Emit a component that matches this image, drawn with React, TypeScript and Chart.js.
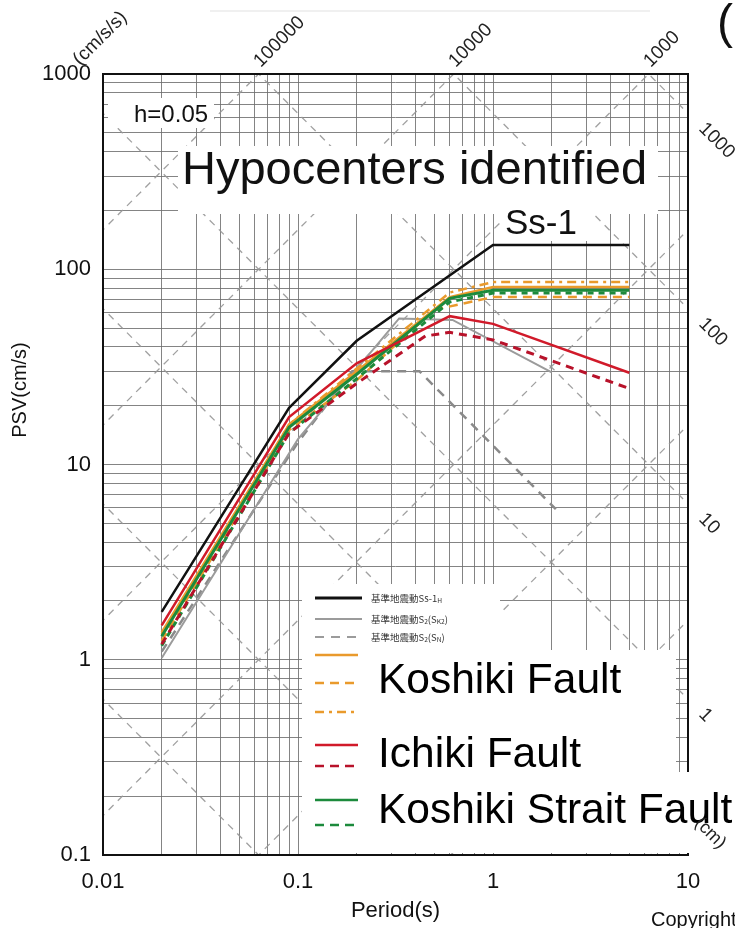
import React, { useEffect, useRef } from "react";
import { Chart, registerables } from "chart.js";

Chart.register(...registerables);

const W = 735;
const H = 928;

// ---- data (period in s, PSV in cm/s) ----
const ss1Periods = [0.02, 0.09, 0.2, 1, 5];
const ss1PSV = [1.76, 19.5, 43, 133, 133];

const sk2Periods = [0.02, 0.1, 0.33, 0.62, 2];
const sk2PSV = [1.02, 13.5, 56, 55, 29.6];

const snPeriods = [0.02, 0.1, 0.19, 0.42, 2.1];
const snPSV = [1.1, 13, 30, 30, 5.9];

const koshikiSolidPeriods = [0.02, 0.09, 0.2, 0.6, 1, 5];
const koshikiSolidPSV = [1.38, 16, 30, 72, 81, 81];
const koshikiDashPeriods = [0.02, 0.09, 0.2, 0.5, 1, 5];
const koshikiDashPSV = [1.25, 15, 27, 62, 72, 72];
const koshikiDotDashPeriods = [0.02, 0.09, 0.2, 0.6, 1, 5];
const koshikiDotDashPSV = [1.35, 16, 31, 76, 86, 86];

const ichikiSolidPeriods = [0.02, 0.09, 0.2, 0.6, 1, 5];
const ichikiSolidPSV = [1.5, 17.5, 33, 57.5, 52.5, 29.5];
const ichikiDashPeriods = [0.02, 0.09, 0.2, 0.45, 0.6, 1, 5];
const ichikiDashPSV = [1.2, 14.5, 26, 45.5, 47.5, 43.5, 24.5];

const straitSolidPeriods = [0.02, 0.09, 0.2, 0.6, 1, 5];
const straitSolidPSV = [1.32, 15.5, 29, 71, 78, 78];
const straitDashPeriods = [0.02, 0.09, 0.2, 0.6, 1, 5];
const straitDashPSV = [1.18, 14.5, 27.5, 68, 75.5, 75.5];

// ---- axes ----
const xTickValues = [0.01, 0.1, 1, 10];
const xTickLabels = ["0.01", "0.1", "1", "10"];
const yTickValues = [0.1, 1, 10, 100, 1000];
const yTickLabels = ["0.1", "1", "10", "100", "1000"];
const xGridValues = [0.01, 0.02, 0.03, 0.04, 0.05, 0.06, 0.07, 0.08, 0.09, 0.1, 0.2, 0.3, 0.4, 0.5, 0.6, 0.7, 0.8, 0.9, 1, 2, 3, 4, 5, 6, 7, 8, 9, 10];
const yGridValues = [0.1, 0.2, 0.3, 0.4, 0.5, 0.6, 0.7, 0.8, 0.9, 1, 2, 3, 4, 5, 6, 7, 8, 9, 10, 20, 30, 40, 50, 60, 70, 80, 90, 100, 200, 300, 400, 500, 600, 700, 800, 900, 1000];

// tripartite diagonal grid (acceleration cm/s/s, displacement cm)
const accelGrid = [0.1, 1, 10, 100, 1000, 10000, 100000, 1000000];
const dispGrid = [0.0001, 0.001, 0.01, 0.1, 1, 10, 100, 1000, 10000];
const accelLabelValues = [100000, 10000, 1000];
const accelLabels = ["100000", "10000", "1000"];
const dispLabelValues = [1000, 100, 10, 1];
const dispLabels = ["1000", "100", "10", "1"];

const legendJa = [
  [["基準地震動Ss-1", false], ["H", true]],
  [["基準地震動S", false], ["2", true], ["(S", false], ["K2", true], [")", false]],
  [["基準地震動S", false], ["2", true], ["(S", false], ["N", true], [")", false]],
];
const faultNames = ["Koshiki Fault", "Ichiki Fault", "Koshiki Strait Fault"];

const FONT = "'Liberation Sans', Arial, Helvetica, sans-serif";
const JFONT = "'Noto Sans CJK JP', 'Noto Sans', sans-serif";

const BLACK = "#111111";
const GRAY = "#9b9b9b";
const GRAYD = "#8a8a8a";
const ORANGE = "#e99a2c";
const RED = "#d11a2a";
const REDD = "#b8122a";
const GREEN = "#1c8a3c";

const pts = (t: number[], v: number[]) => t.map((x, i) => ({ x, y: v[i] }));
const same = (a: number, b: number) => Math.abs(Math.log10(a) - Math.log10(b)) < 1e-6;
const labelFor = (v: number, vals: number[], labels: string[]) => {
  const i = vals.findIndex((d) => same(d, v));
  return i >= 0 ? labels[i] : "";
};

function drawRich(ctx: CanvasRenderingContext2D, x: number, y: number, parts: any[], size: number) {
  let cx = x;
  for (const [t, sub] of parts) {
    ctx.font = `${sub ? size * 0.7 : size}px ${JFONT}`;
    ctx.fillText(t, cx, sub ? y + size * 0.3 : y);
    cx += ctx.measureText(t).width;
  }
}

export default function App() {
  const ref = useRef<HTMLCanvasElement>(null);

  useEffect(() => {
    document.body.style.margin = "0";
    const canvas = ref.current!;

    const overlay = {
      id: "overlay",
      beforeDatasetsDraw(chart: any) {
        const { ctx, chartArea: a, scales } = chart;
        const xs = scales.x, ys = scales.y;
        ctx.save();
        ctx.beginPath();
        ctx.rect(a.left, a.top, a.right - a.left, a.bottom - a.top);
        ctx.clip();
        ctx.strokeStyle = "rgba(150,150,150,0.9)";
        ctx.lineWidth = 1.3;
        ctx.setLineDash([7, 6]);
        const t0 = 0.005, t1 = 20;
        for (const A of accelGrid) {
          ctx.beginPath();
          ctx.moveTo(xs.getPixelForValue(t0), ys.getPixelForValue((A * t0) / (2 * Math.PI)));
          ctx.lineTo(xs.getPixelForValue(t1), ys.getPixelForValue((A * t1) / (2 * Math.PI)));
          ctx.stroke();
        }
        for (const D of dispGrid) {
          ctx.beginPath();
          ctx.moveTo(xs.getPixelForValue(t0), ys.getPixelForValue((2 * Math.PI * D) / t0));
          ctx.lineTo(xs.getPixelForValue(t1), ys.getPixelForValue((2 * Math.PI * D) / t1));
          ctx.stroke();
        }
        ctx.restore();
      },
      afterDraw(chart: any) {
        const { ctx, chartArea: a, scales } = chart;
        const xs = scales.x, ys = scales.y;
        ctx.save();
        // plot border
        ctx.strokeStyle = "#111";
        ctx.lineWidth = 2;
        ctx.strokeRect(a.left, a.top, a.right - a.left, a.bottom - a.top);

        // faint scan line at top
        ctx.strokeStyle = "rgba(0,0,0,0.12)";
        ctx.lineWidth = 1;
        ctx.beginPath();
        ctx.moveTo(210, 11);
        ctx.lineTo(650, 11);
        ctx.stroke();

        // acceleration labels (top)
        ctx.fillStyle = "#222";
        ctx.font = `19px ${FONT}`;
        ctx.textBaseline = "alphabetic";
        ctx.textAlign = "left";
        const topPSV = ys.max;
        accelLabelValues.forEach((A, i) => {
          const T = (2 * Math.PI * topPSV) / A;
          const x = xs.getPixelForValue(T);
          ctx.save();
          ctx.translate(x + 2, a.top - 6);
          ctx.rotate(-Math.PI / 4);
          ctx.fillText(accelLabels[i], 0, 0);
          ctx.restore();
        });
        ctx.save();
        ctx.translate(80, a.top - 8);
        ctx.rotate(-Math.PI / 4);
        ctx.fillText("(cm/s/s)", 0, 0);
        ctx.restore();

        // displacement labels (right)
        const rightT = xs.max;
        dispLabelValues.forEach((D, i) => {
          const y = ys.getPixelForValue((2 * Math.PI * D) / rightT);
          ctx.save();
          ctx.translate(a.right + 10, y + 16);
          ctx.rotate(Math.PI / 4);
          ctx.fillText(dispLabels[i], 0, 0);
          ctx.restore();
        });

        // y title
        ctx.save();
        ctx.fillStyle = "#111";
        ctx.font = `20px ${FONT}`;
        ctx.textAlign = "center";
        ctx.textBaseline = "middle";
        ctx.translate(20, 390);
        ctx.rotate(-Math.PI / 2);
        ctx.fillText("PSV(cm/s)", 0, 0);
        ctx.restore();

        // white text boxes
        ctx.fillStyle = "#fff";
        ctx.fillRect(108, 98, 106, 30); // h=0.05
        ctx.fillRect(178, 146, 480, 68); // title
        ctx.fillRect(500, 204, 90, 37); // Ss-1
        // legend panel
        ctx.fillRect(302, 584, 198, 66);
        ctx.fillRect(302, 650, 374, 122);
        ctx.fillRect(302, 772, 433, 81);

        ctx.fillStyle = "#111";
        ctx.textAlign = "left";
        ctx.textBaseline = "alphabetic";
        ctx.font = `24px ${FONT}`;
        ctx.fillText("h=0.05", 134, 122);
        ctx.font = `47px ${FONT}`;
        ctx.fillText("Hypocenters identified", 182, 184);
        ctx.font = `35px ${FONT}`;
        ctx.fillText("Ss-1", 505, 234);

        // legend samples
        const samples = [
          { y: 598, c: BLACK, d: [] as number[], w: 3, x1: 362 },
          { y: 619, c: GRAY, d: [], w: 2, x1: 362 },
          { y: 637, c: GRAY, d: [9, 7], w: 2, x1: 362 },
          { y: 655, c: ORANGE, d: [], w: 2.5, x1: 358 },
          { y: 683, c: ORANGE, d: [9, 6], w: 2.5, x1: 358 },
          { y: 712, c: ORANGE, d: [9, 5, 3, 5], w: 2.5, x1: 358 },
          { y: 745, c: RED, d: [], w: 2.5, x1: 358 },
          { y: 766, c: REDD, d: [9, 6], w: 2.5, x1: 358 },
          { y: 800, c: GREEN, d: [], w: 2.5, x1: 358 },
          { y: 825, c: GREEN, d: [9, 6], w: 2.5, x1: 358 },
        ];
        for (const s of samples) {
          ctx.strokeStyle = s.c;
          ctx.lineWidth = s.w;
          ctx.setLineDash(s.d);
          ctx.beginPath();
          ctx.moveTo(315, s.y);
          ctx.lineTo(s.x1, s.y);
          ctx.stroke();
        }
        ctx.setLineDash([]);
        ctx.fillStyle = "#333";
        ctx.textBaseline = "middle";
        legendJa.forEach((parts, i) => drawRich(ctx, 371, [598, 619, 637][i], parts, 9.5));

        ctx.fillStyle = "#000";
        ctx.textBaseline = "alphabetic";
        ctx.font = `42.5px ${FONT}`;
        ctx.fillText(faultNames[0], 378, 693);
        ctx.fillText(faultNames[1], 378, 767);
        ctx.fillText(faultNames[2], 378, 823);

        // (cm)
        ctx.fillStyle = "#222";
        ctx.font = `18px ${FONT}`;
        ctx.save();
        ctx.translate(694, 824);
        ctx.rotate(Math.PI / 4);
        ctx.fillText("(cm)", 0, 0);
        ctx.restore();

        // corner fragments
        ctx.fillStyle = "#111";
        ctx.font = `48px ${FONT}`;
        ctx.fillText("(", 717, 38);
        ctx.font = `20px ${FONT}`;
        ctx.fillText("Copyright", 651, 926);
        ctx.restore();
      },
    };

    const line = (label: string, t: number[], v: number[], color: string, width: number, dash: number[], order: number) => ({
      label,
      data: pts(t, v),
      borderColor: color,
      backgroundColor: color,
      borderWidth: width,
      borderDash: dash,
      pointRadius: 0,
      tension: 0,
      fill: false,
      order,
    });

    const chart = new Chart(canvas, {
      type: "line",
      data: {
        datasets: [
          line("Ss-1H", ss1Periods, ss1PSV, BLACK, 2.5, [], 0),
          line("S2(Sk2)", sk2Periods, sk2PSV, GRAY, 2, [], 9),
          line("S2(Sn)", snPeriods, snPSV, GRAYD, 2.5, [9, 7], 10),
          line("Koshiki Fault", koshikiSolidPeriods, koshikiSolidPSV, ORANGE, 2.5, [], 6),
          line("Koshiki Fault (dashed)", koshikiDashPeriods, koshikiDashPSV, ORANGE, 2.5, [9, 6], 7),
          line("Koshiki Fault (dash-dot)", koshikiDotDashPeriods, koshikiDotDashPSV, ORANGE, 2.5, [9, 5, 3, 5], 8),
          line("Ichiki Fault", ichikiSolidPeriods, ichikiSolidPSV, RED, 2.5, [], 1),
          line("Ichiki Fault (dashed)", ichikiDashPeriods, ichikiDashPSV, REDD, 3, [8, 6], 2),
          line("Koshiki Strait Fault", straitSolidPeriods, straitSolidPSV, GREEN, 3, [], 3),
          line("Koshiki Strait Fault (dashed)", straitDashPeriods, straitDashPSV, GREEN, 3, [6, 5], 4),
        ],
      },
      options: {
        animation: false,
        responsive: false,
        devicePixelRatio: 1,
        layout: { padding: { top: 74, right: 47, left: 0, bottom: 0 } },
        plugins: { legend: { display: false }, tooltip: { enabled: false }, title: { display: false } },
        scales: {
          x: {
            type: "logarithmic",
            min: 0.01,
            max: 10,
            afterBuildTicks: (s: any) => {
              s.ticks = xGridValues.map((value) => ({ value }));
            },
            afterFit: (s: any) => {
              s.height = 73;
            },
            ticks: {
              autoSkip: false,
              maxRotation: 0,
              minRotation: 0,
              padding: 14,
              color: "#111",
              font: { family: FONT, size: 22 },
              callback: (v: any) => labelFor(Number(v), xTickValues, xTickLabels),
            },
            grid: { color: "rgba(110,110,110,0.85)", lineWidth: 1, drawTicks: false },
            border: { display: false },
            title: { display: true, text: "Period(s)", color: "#111", font: { family: FONT, size: 22 }, padding: { top: 4, bottom: 4 } },
          },
          y: {
            type: "logarithmic",
            min: 0.1,
            max: 1000,
            afterBuildTicks: (s: any) => {
              s.ticks = yGridValues.map((value) => ({ value }));
            },
            afterFit: (s: any) => {
              s.width = 103;
            },
            ticks: {
              autoSkip: false,
              padding: 12,
              color: "#111",
              font: { family: FONT, size: 22 },
              callback: (v: any) => labelFor(Number(v), yTickValues, yTickLabels),
            },
            grid: { color: "rgba(110,110,110,0.85)", lineWidth: 1, drawTicks: false },
            border: { display: false },
          },
        },
      } as any,
      plugins: [overlay],
    });

    return () => chart.destroy();
  }, []);

  return <canvas ref={ref} width={W} height={H} style={{ display: "block", width: W, height: H }} />;
}
